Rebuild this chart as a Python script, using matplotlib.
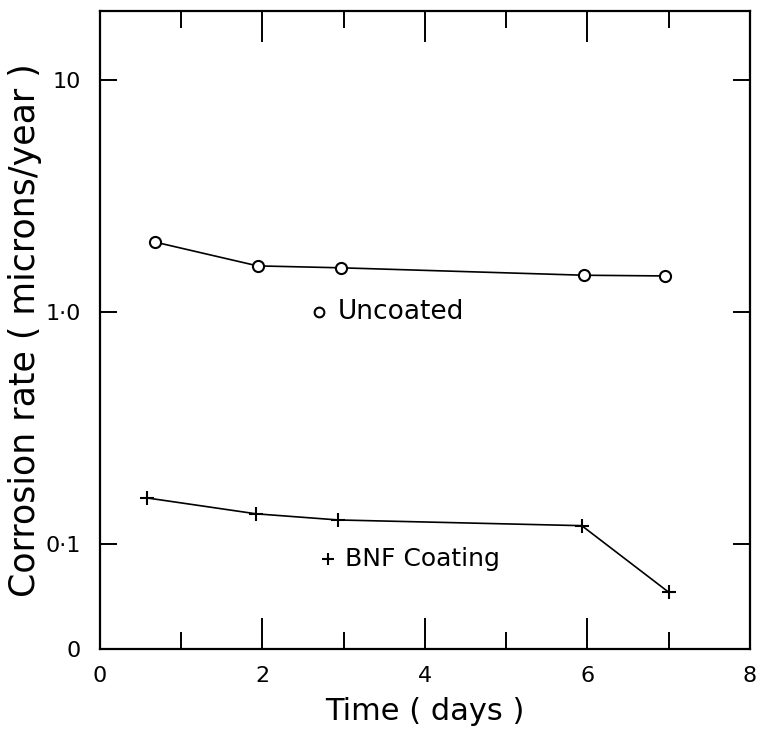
import numpy as np
import matplotlib.pyplot as plt
from matplotlib.ticker import NullLocator

# values
days_uncoated = [0.68, 1.94, 2.97, 5.96, 6.95]
rate_uncoated = [2.00, 1.58, 1.55, 1.44, 1.43]

days_bnf = [0.58, 1.92, 2.93, 5.93, 7.00]
rate_bnf = [0.158, 0.135, 0.127, 0.120, 0.062]

xticks = [0, 2, 4, 6, 8]
xminor = [1, 3, 5, 7]
y_bottom = 0.0353
y_top = 19.8
yticks = [y_bottom, 0.1, 1.0, 10]
ytick_labels = ["0", "0\u00b71", "1\u00b70", "10"]

fig = plt.figure(figsize=(7.61, 7.39), dpi=100)
ax = fig.add_axes([0.1314, 0.1218, 0.9855 - 0.1314, 0.985 - 0.1218])

ax.plot(days_uncoated, rate_uncoated, color='black', lw=1.2, marker='o', ms=8,
        mfc='white', mec='black', mew=1.5)
ax.plot(days_bnf, rate_bnf, color='black', lw=1.2, marker='+', ms=10, mew=1.5)

ax.set_yscale('log')
ax.set_xlim(0, 8)
ax.set_ylim(y_bottom, y_top)

ax.set_xticks(xticks)
ax.set_xticklabels([str(t) for t in xticks])
ax.set_xticks(xminor, minor=True)
ax.set_yticks(yticks)
ax.set_yticklabels(ytick_labels)
ax.yaxis.set_minor_locator(NullLocator())

ax.tick_params(axis='x', which='major', direction='in', length=22, width=1.4,
               top=True, bottom=True, labelsize=16, pad=12)
ax.tick_params(axis='x', which='minor', direction='in', length=12, width=1.4,
               top=True, bottom=True)
ax.tick_params(axis='y', which='major', direction='in', length=12, width=1.4,
               left=True, right=True, labelsize=16, pad=14)

for s in ax.spines.values():
    s.set_linewidth(1.6)

ax.set_xlabel("Time ( days )", fontsize=22, labelpad=8)
ax.set_ylabel("Corrosion rate ( microns/year )", fontsize=25, labelpad=2)

ax.plot([2.69], [1.0], marker='o', ms=7, mfc='white', mec='black', mew=1.5, color='black')
ax.text(2.93, 1.0, "Uncoated", fontsize=19, va='center', ha='left')
ax.plot([2.81], [0.086], marker='+', ms=9, mew=1.5, color='black')
ax.text(3.02, 0.086, "BNF Coating", fontsize=18, va='center', ha='left')

fig.savefig("out.png", dpi=100)
